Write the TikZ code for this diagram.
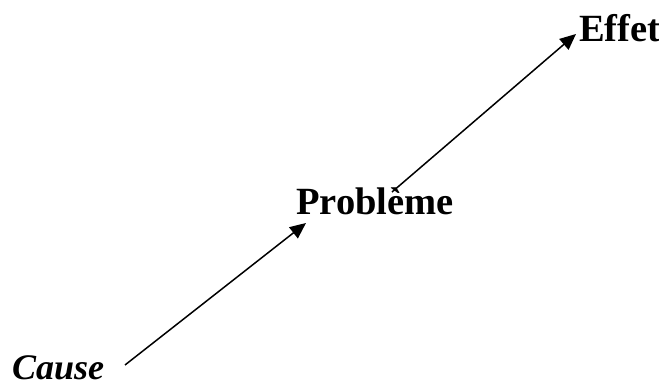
\documentclass[tikz,border=0pt]{standalone}
\usepackage{fontspec}
\setmainfont{Liberation Serif}
\usepackage{tikz}
\usetikzlibrary{arrows.meta, positioning, calc}

\begin{document}
\begin{tikzpicture}[x=1pt, y=1pt,
    label/.style={font=\fontsize{38.5}{42}\selectfont\bfseries, inner sep=0pt, anchor=base west},
    link/.style={line width=1.5pt, -{Triangle[length=16pt, width=14pt]}}]
    \useasboundingbox (0,0) rectangle (659,387);
    % the three words
    \node[label, font=\fontsize{36}{40}\selectfont\bfseries\itshape] (cause) at (12,7) {Cause};
    \node[label] (probleme) at (296,172) {Problème};
    \node[label] (effet) at (579,345) {Effet};
    % arrows between them
    \draw[link] ([shift={(113,15)}]cause.base west) -- ([shift={(10,-8)}]probleme.base west);
    \draw[link] ([shift={(96,23)}]probleme.base west) -- ([shift={(-3,8)}]effet.base west);
\end{tikzpicture}
\end{document}
